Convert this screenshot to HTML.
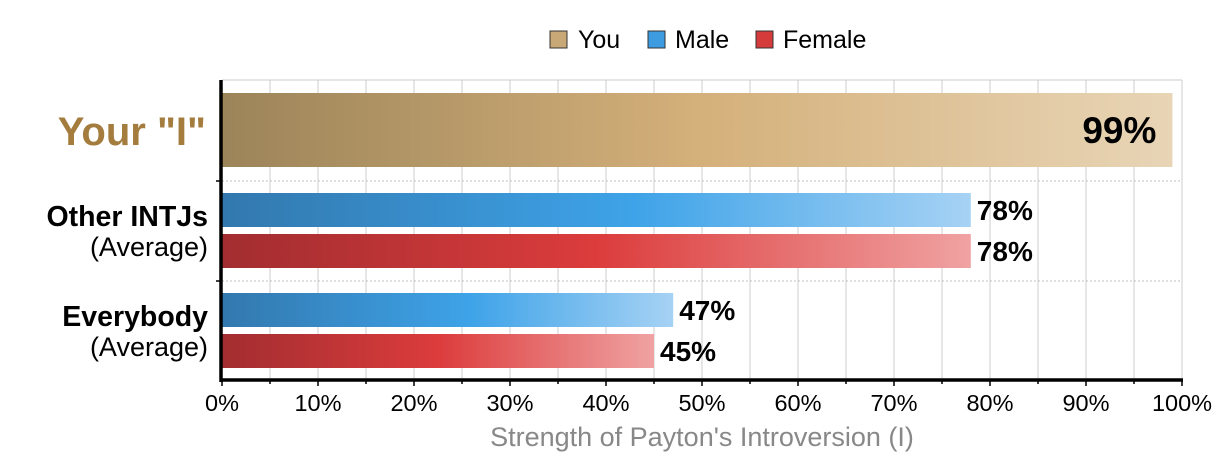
<!DOCTYPE html>
<html><head><meta charset="utf-8"><style>
body{margin:0;background:#fff;font-family:"Liberation Sans",sans-serif;}
svg text{font-family:"Liberation Sans",sans-serif;}
</style></head><body>
<svg id="chart" width="1230" height="470">
<defs>
<linearGradient id="gYou" x1="0" x2="1"><stop offset="0" stop-color="#9c8459"/><stop offset="0.5" stop-color="#d4b07a"/><stop offset="1" stop-color="#e8d5b6"/></linearGradient>
<linearGradient id="gMale" x1="0" x2="1"><stop offset="0" stop-color="#3278ae"/><stop offset="0.55" stop-color="#3ea3e8"/><stop offset="1" stop-color="#a6d2f4"/></linearGradient>
<linearGradient id="gFemale" x1="0" x2="1"><stop offset="0" stop-color="#a22d30"/><stop offset="0.5" stop-color="#dc3c3c"/><stop offset="1" stop-color="#f0a2a2"/></linearGradient>
</defs>
<g id="legend">
<rect x="550" y="31" width="17" height="17" fill="#c9a877" stroke="#333" stroke-width="1"/>
<text x="578" y="48" font-size="25" fill="#000">You</text>
<rect x="648" y="31" width="17" height="17" fill="#3d9be0" stroke="#333" stroke-width="1"/>
<text x="675" y="48" font-size="25" fill="#000">Male</text>
<rect x="756" y="31" width="17" height="17" fill="#d63b3b" stroke="#333" stroke-width="1"/>
<text x="783" y="48" font-size="25" fill="#000">Female</text>
</g>
<g id="grid"></g>
<g id="bars"></g>
<g id="axes"></g>
<text x="206" y="145" font-size="40" font-weight="bold" fill="#a47c3e" text-anchor="end">Your "I"</text>
<text x="208" y="226" font-size="28.5" font-weight="bold" text-anchor="end">Other INTJs</text>
<text x="208" y="256" font-size="27" text-anchor="end">(Average)</text>
<text x="208" y="326" font-size="28.5" font-weight="bold" text-anchor="end">Everybody</text>
<text x="208" y="356" font-size="27" text-anchor="end">(Average)</text>
<text x="702" y="446" font-size="27" fill="#888" text-anchor="middle">Strength of Payton's Introversion (I)</text>
</svg>
<script>
const categories = ["You", "INTJ Male", "INTJ Female", "Everybody Male", "Everybody Female"];
const values = [99, 78, 78, 47, 45];
const fills = ["url(#gYou)", "url(#gMale)", "url(#gFemale)", "url(#gMale)", "url(#gFemale)"];
const tickLabels = ["0%","10%","20%","30%","40%","50%","60%","70%","80%","90%","100%"];
const NS = "http://www.w3.org/2000/svg";
const x0 = 222, x1 = 1182, yTop = 80, yBot = 380;
const xs = v => x0 + (x1 - x0) * v / 100;
const barY = [93, 193, 234, 293, 334];
const barH = [74, 34, 34, 34, 34];
function mk(tag, attrs, parent){const e=document.createElementNS(NS,tag);for(const k in attrs)e.setAttribute(k,attrs[k]);parent.appendChild(e);return e;}
const grid = document.getElementById('grid');
for (let p = 0; p <= 100; p += 5) {
  const l = mk('line',{x1:xs(p),x2:xs(p),y1:yTop,y2:yBot,stroke:'#cccccc','stroke-width':1},grid);
  
  
}
const topBorder = mk('line',{x1:x0,x2:x1,y1:yTop,y2:yTop,stroke:'#cccccc'},grid);


[181, 281].forEach(y => {
  const l = mk('line',{x1:x0,x2:x1,y1:y,y2:y,stroke:'#c0c0c0','stroke-dasharray':'2,2'},grid);
  
  
});
const barsG = document.getElementById('bars');
values.forEach((v,i) => {
  const r = mk('rect',{x:x0,y:barY[i],width:xs(v)-x0,height:barH[i],fill:fills[i]},barsG);
  
  
  let t;
  if (i === 0) {
    t = mk('text',{x:xs(v)-16,y:barY[i]+barH[i]/2+13,'font-size':37,'font-weight':'bold','text-anchor':'end'},barsG);
  } else {
    t = mk('text',{x:xs(v)+6,y:barY[i]+barH[i]/2+10,'font-size':28,'font-weight':'bold'},barsG);
  }
  t.textContent = v + '%';
  
  
});
const axesG = document.getElementById('axes');
const ya = mk('line',{x1:x0-1,x2:x0-1,y1:yTop,y2:yBot+2,stroke:'#000','stroke-width':3.5},axesG);


const xa = mk('line',{x1:x0-2,x2:x1+1,y1:yBot,y2:yBot,stroke:'#000','stroke-width':3.5},axesG);


[181,281].forEach(y=>{
  const t = mk('line',{x1:x0-6,x2:x0,y1:y,y2:y,stroke:'#000','stroke-width':1.5},axesG);
  
  
});
for (let p = 0; p <= 100; p += 5) {
  const t = mk('line',{x1:xs(p),x2:xs(p),y1:yBot,y2:yBot+(p%10===0?6:4),stroke:'#000','stroke-width':1.5},axesG);
  
  
}
tickLabels.forEach((lab,i) => {
  const t = mk('text',{x:xs(i*10),y:411,'font-size':23.5,'text-anchor':'middle'},axesG);
  t.textContent = lab;
  
  
});
</script>
</body></html>
